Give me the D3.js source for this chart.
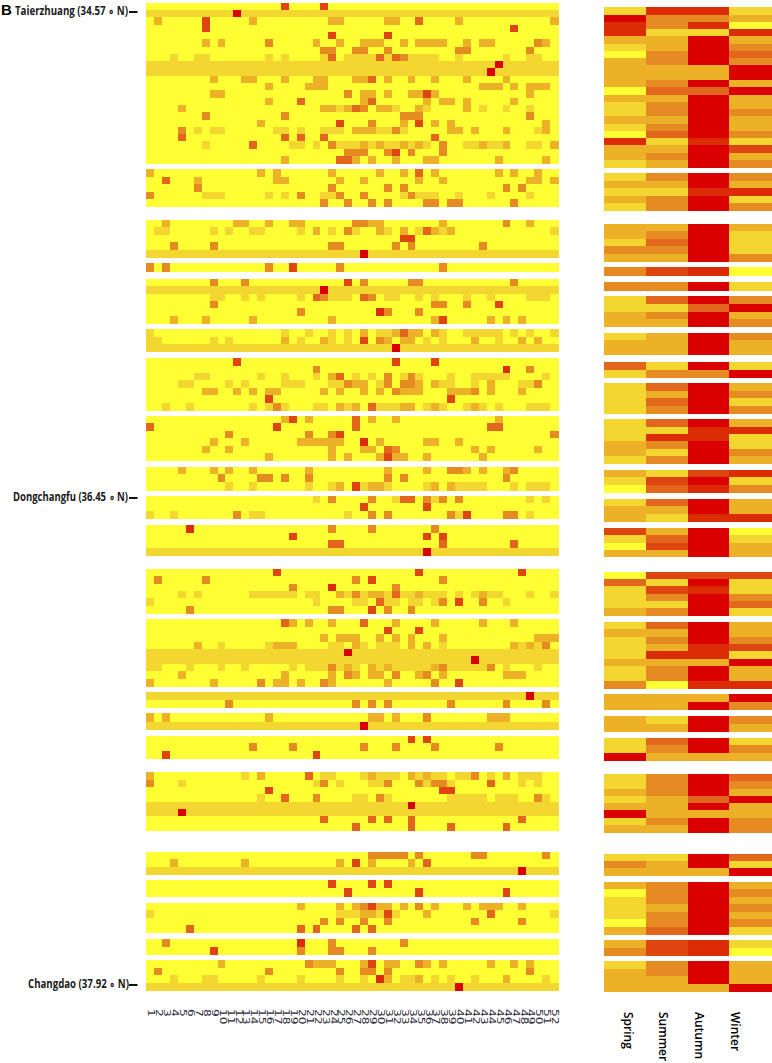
<!DOCTYPE html>
<html>
<head>
<meta charset="utf-8">
<script src="https://cdn.jsdelivr.net/npm/d3@7"></script>
<style>
  html, body { margin: 0; padding: 0; background: #fff; }
  text { fill: #1a1a1a; }
</style>
</head>
<body>
<div id="chart"></div>
<script>
// colour level of a cell: 0 yellow ... 7 red
var levels = [0, 1, 2, 3, 4, 5, 6, 7]
var palette = ['#ffff33', '#f3d62f', '#edb128', '#e68b22', '#e2661c', '#de4510', '#dc2c06', '#db0000']
var weeks = d3.range(1, 53)
var seasons = ['Spring', 'Summer', 'Autumn', 'Winter']
var stations = ['Taierzhuang (34.57 ∘ N)', 'Dongchangfu (36.45 ∘ N)', 'Changdao (37.92 ∘ N)']

// weekly rows: first number is the level of the whole row, then week:level or from-to:level
var leftSizes = [22, 5, 5, 1, 6, 3, 7, 6, 3, 3, 4, 6, 9, 2, 2, 3, 8, 3, 2, 4, 2, 4]
var leftRows = [
  '0 18:5 23:5',
  '1 12:7',
  '0 2:2 8:5 14:2 24-25:2 31-32:2 35:4 40:2 52:2',
  '0 8:5 47:5',
  '0 24:5 31:5',
  '0 8:2 10:2 16:3 22:2 25:2 28-30:2 33:2 35-38:2 41:2 43-44:2 50:3 51:2',
  '0 23-24:3 27-28:3 31:3 40-41:3 49:3',
  '0 4:1 7-8:1 16:1 18:1 23:1 24:4 26-29:1 30:4 31:1 32:4 33:3 34-37:1 40:1 46:1 49-50:1',
  '1 45:7',
  '1 44:7',
  '0 9:2 13-14:2 18:2 22-23:2 27-28:2 29:4 31:2 34:2 37:2 41:2 46:2',
  '0 16:2 21-23:2 43-45:2 47:2 49-51:2',
  '0 9-10:2 26:3 28-29:2 31:2 34-35:2 36:5 37:2 49:2',
  '0 16:2 20:4 28:2 29:4 36:2 38-39:2 41:2 47:2',
  '0 5:2 23-24:2 25:1 26:2 27:4 28:3 30-31:2 32:1 35:2 36:1 41:2 43:1 46:1 49:1',
  '0 8:3 18:3 33-35:3 49:3',
  '0 15:2 25:5 29:3 33:2 35:5 37:2 39:2 51:2',
  '0 5:3 7:1 9-10:1 17-18:1 20:1 23-25:1 27-29:2 30-31:1 32:3 33:1 39-40:2 42:2 46:2 50:1 51:2',
  '0 5:4 18:4 20:4 23:4 37:4',
  '0 8:1 14:4 19-20:1 22:1 24:3 25-27:1 28:2 29:1 30:2 31-32:1 33:2 34:1 35:2 36:1 38:3 41-42:1 43:2 44-45:1 46:2 49-50:1 52:2',
  '0 26-28:3 31:3 32:5 34:3 38:3',
  '0 18:2 25-26:4 27:2 29:2 32:2 36-37:2 45:2 51:2',

  '0 1:2 15:2 17:2 24:2 30:2 33:2 35:4 37:2 45:2 47:2 50:2',
  '0 3:4 7:2 17-18:2 25:2 28:2 35:2 38:2 49-50:2 52:2',
  '0 7:3 24:3 31:3 33:3 46:3 48:3',
  '0 1:3 8-10:1 16:1 18:1 20:3 23-24:1 25:3 28:3 33:1 34:3 35-37:1 40:1 44:1 49:1',
  '0 23:3 26:3 29:3 31:3 36-37:3 39-40:3 47:3',

  '0 3:2 12-13:2 16:2 19-20:2 27-28:3 29-30:2 38:2 46:3 49:2',
  '0 2-3:1 9:1 11:1 14-15:1 20:1 22:2 24:1 26:3 27:1 30:2 31:1 33:2 35:1 36:4 37:2 38:1 39:2 52:1',
  '0 33-34:5',
  '0 4:3 9:3 24-25:3 32:3 34:3 43:3',
  '1 28:7',

  '0 1:3 3:3 16:3 19:5 25:3 38:3',

  '0 9:3 13:3 26:5 28:3 34-35:3 47:3',
  '1 23:7',
  '0 9-10:1 13:1 15:1 20:1 22:4 23:3 24-26:1 28:4 29:3 31-32:1 35:1 37:1 41:1 44:1 49-51:1',
  '0 9:3 37-38:3 41:3 45:5',
  '0 20:3 30:6 31:3 35:3',
  '0 4:2 8:2 14:2 24:2 37:2 38:5 44:2 46:2 48:2',

  '0 1:1 18:1 21:1 24:1 26:1 28:2 30-31:1 32:2 33:4 34-35:2 37:2 38:1 41-45:1 47:1 49:1 52:1',
  '0 1-2:1 9:1 11:1 18:2 20:1 23:2 24:1 26:1 28:5 30:3 31:2 33-34:2 36:1 38:1 42:2 45:1 48:2 50:2',
  '1 32:7',

  '0 12:5 32:5 37:5',
  '0 22:3 46:6 49:3',
  '0 7-8:1 15:1 18:1 22:1 24:2 25:4 27:1 29:1 31:3 33:1 34:3 35:1 39:1 42-46:1 51:1',
  '0 5-6:1 11:1 13:1 18-20:1 24-25:1 26:3 27-28:2 30:1 31:3 33-34:3 35:2 37:2 38-39:1 42:1 44:2 48-49:1 50:3',
  '0 8-9:2 12:2 14:2 16-17:2 23:2 25:2 28:2 30:2 32:3 33-35:2 39-41:2 42:3 44:2 48:2',
  '0 16:5 39:5',
  '0 3:1 6:1 14:1 16:1 17:3 18:1 22-23:1 25:2 26:1 27:2 29:4 30-32:1 33-34:2 36:1 37:2 38:1 41:1 42:2 43:1 45:1 49-51:1',

  '0 18:2 19:5 21:2 27:4 29:2 32:2 45:2',
  '0 1:4 17:5 27:4 44-45:4',
  '0 11:3 21:3 24:3 25:5 52:3',
  '0 9:2 13:2 20-25:2 28:6 30:2 36-37:2 40:2',
  '0 8:2 11:2 24:2 28-29:2 31:4 32:3 42:2 44:2 50:2',
  '0 16:2 24:2 26:2 30:2 31:5 32-33:2 36:2 43:2',

  '0 5:2 9:2 11:2 14:2 21:2 31:2 36:2 39-40:3 41:2 43:2 46:2 47:3',
  '0 10:3 15-16:3 18:3 21:3 31:3 33:3 46:3',
  '0 11:1 14:1 21:1 24:1 25:2 27:5 28:1 29-30:2 31:1 36:1 37:2 39:2 40-43:1 47:1 49-51:1',

  '0 22:1 24:3 29:3 32:1 33-34:4 36:3 37:1 38:3 40:3 49:1 51:1',
  '0 28:5 36:5',
  '0 1:1 4:1 12:3 14-15:1 26:1 29:3 31:3 39:3 40:1 41:5 46-47:3 49:1',

  '0 6:6 24:3 29:3 37:3',
  '0 19:5 36:5 38:5',
  '0 24-25:4 38:4 47:4',
  '1 36:7',

  '0 17:5 35:5 48:5',
  '0 2:3 8:3 27:3 29:5 38:3',
  '0 19:3 24:6 32:3',
  '0 5:1 7:1 14-19:1 21-22:1 25:2 26:1 27:3 28:1 29-30:2 31:1 32:4 33-34:1 35:2 36-38:1 40:1 42:1 43:2 44-45:1 49:1 52:1',
  '0 1:1 22:1 27-28:1 30:4 31-32:1 34-35:1 37:1 38:3 40:5 43:3 46:1',
  '0 6:3 24-25:3 29:5 31:3 34:3',

  '0 18:4 19:2 21:2 24:2 28:4 32:2 37:2 43:2 47:2',
  '0 31:5 35:5',
  '0 23:2 25-27:2 30:2 32:2 34:2 38:2 50-52:2',
  '0 7:2 10:1 16:1 17-19:2 24-25:1 27:2 28:1 30-32:1 34:2 36:2 38:1 47:2 48:1 49:2 50:1 51:3',
  '1 26:7',
  '1 42:7',
  '0 1-2:1 6:1 10:1 13:1 19:1 21-23:1 24:3 25:1 26:2 27:1 29:2 30:1 31:2 32-36:1 37:2 38:3 39-43:1 44:3 46:1 50:1',
  '0 5:2 18:2 24:2 26:3 27:2 29-30:2 32:3 35:2 36:3 38:2 46-48:2',
  '0 1:2 9:2 15:3 17-18:2 20:2 23:3 24:2 31:2 37:3 40:5',

  '1 49:7',
  '0 11:3 27:3 29:3 31:3 39:3 46:3 51:3',

  '0 1:2 3:2 16:2 29-30:2 32:2 36:3 44-46:2',
  '1 28:7',

  '0 34:5 36:5',
  '0 14:3 19:3 28:3 32:3 37:3 45:3',
  '0 3:5 22:5',

  '0 1:2 13:1 15:2 21:4 23-24:1 28:1 29:2 30-32:1 34:2 35:1 36:2 37-38:1 40-41:1 42:3 44:1 46:2 48-50:1',
  '0 1:3 5:1 22:1 23:3 25:1 29-30:1 31:3 35:3 36:1 37-38:3 39:1 44:4 48:1 50:1',
  '0 16:5 38-39:5',
  '0 15:1 18:4 22:3 27-28:1 30:3 31:1 39-43:1 45-47:1 50:3 51:1',
  '1 34:7',
  '1 5:7',
  '0 23:4 29:4 31:4 34:4 48:4',
  '0 27:4 34:4 39:4 46:4',

  '0 29-33:3 35:3 42-43:3 51:3',
  '0 4:2 13:2 25:2 27:5 29:2 34:2 36:4',
  '1 48:7',

  '0 24:5 29:5 31:5',
  '0 26:5 35:5 46:5',

  '0 20:2 25:2 27:2 28:3 29:5 30-31:2 33:2 35:3 37:2 41:2 43-45:2 48:2',
  '0 1:1 25-27:1 28-29:2 30:1 31:5 32:1 36:2 44:4 52:1',
  '0 23:3 25:3 28:3 31:3 42:3 48:3',
  '0 6:4 20:4 22:4 27:4 29:4',

  '0 3:3 20:6 24:3 33:3',
  '0 9:5 20:3 24-25:3 29:3',

  '0 10:2 21:3 22-24:2 28:2 29:5 31-32:2 35:3 36:2 38:2 44:2 47:2 49:2',
  '0 2:3 16:3 25:3 28-29:3 31:3 49:3',
  '0 4:1 8-9:1 15:1 20:1 25:1 28:1 30:6 31:2 33-34:1 35:2 37:1 39:1 42:1 46:2 51:1',
  '1 40:7'
]

// seasonal rows, one level per row for each season
var rightSizes = [22, 5, 5, 1, 1, 4, 3, 2, 4, 6, 3, 3, 4, 6, 9, 2, 2, 3, 8, 3, 7, 2, 4]
var spring = [
  1,7,6,6,2,1,0,2,2,2,2,0,2,1,1,2,1,0,6,2,2,1,
  1,2,1,2,1, 2,2,1,3,2, 3, 3, 1,1,2,2, 1,2,2, 4,1, 1,1,1,1, 1,1,1,2,2,1, 2,1,0, 1,2,2, 5,1,0,2,
  0,4,1,1,1,2, 1,2,1,1,1,2,1,1,3, 2,2, 2,2, 1,1,7, 1,1,2,1,2,7,1,2, 1,3,2, 2,0,1,1,1,0,2, 2,3, 1,2,2,2
]
var summer = [
  6,3,3,1,2,2,3,3,2,2,3,4,2,3,3,2,3,4,1,2,3,2,
  3,2,1,3,3, 2,3,4,3,2, 5, 3, 4,1,3,2, 2,2,2, 1,3, 4,2,4,3, 4,1,6,3,1,3, 1,5,4, 4,2,1, 2,4,5,2,
  5,1,5,3,1,3, 4,2,3,2,6,2,3,3,0, 2,2, 1,2, 4,3,2, 3,3,3,2,2,2,3,2, 1,2,2, 3,3,3,2,3,3,4, 5,5, 3,3,2,2
]
var autumn = [
  6,3,6,1,7,7,7,7,2,2,7,4,7,7,7,7,7,7,6,7,7,7,
  7,7,6,7,7, 7,7,7,7,7, 6, 7, 7,4,7,7, 7,7,7, 7,3, 7,7,7,7, 7,6,6,7,7,7, 5,7,6, 7,7,6, 7,7,7,7,
  5,7,6,7,7,7, 7,7,7,6,6,2,7,7,6, 2,7, 7,7, 7,7,2, 7,7,7,4,7,2,7,7, 7,7,2, 7,7,7,7,7,7,7, 6,6, 7,7,7,2
]
var winter = [
  1,2,0,6,2,3,4,3,7,7,2,7,2,2,3,2,2,3,1,5,2,3,
  3,2,6,1,3, 2,1,1,1,3, 0, 1, 3,7,2,3, 3,2,2, 1,7, 2,3,1,3, 2,6,1,1,3,2, 6,1,3, 2,2,6, 0,1,2,2,
  5,1,1,3,4,1, 2,2,3,5,1,7,2,2,6, 7,3, 3,2, 1,3,2, 4,3,2,7,2,2,3,3, 4,1,7, 2,3,2,3,2,3,1, 1,0, 2,2,2,7
]

// layout, top and bottom of each block of rows
var leftBlocks = [[2.7,163.3],[169,206.7],[220,257.3],[263.3,271.7],[278.7,323.3],[329.3,351.3],[358.3,410],[416,460.3],
  [466.7,490],[496,518.3],[525,555],[568.7,613.3],[619.3,686],[692,707.7],[713.3,729.7],[735.7,758],[772.3,830.7],
  [852,874.3],[880,896.3],[902.7,932.7],[939,954],[960,990.3]]
var rightBlocks = [[7.3,167.3],[173.3,210.7],[224,261],[267.3,275.3],[282.3,290.3],[296.3,326.7],[333,354.7],[362,377.3],
  [383,413],[419.3,463.3],[470,492.3],[499,521],[528.3,556.7],[571.7,615.7],[622,688],[694.3,709.7],[715.7,731.7],
  [737.7,760],[774,832.3],[853.7,875.7],[881.7,934],[940,955],[961.3,991.3]]

var svg = d3.select('#chart').append('svg').attr('width', 772).attr('height', 1063)
  .style('display', 'block').attr('font-family', '"Liberation Sans Narrow", "Open Sans", sans-serif')

var color = d3.scaleOrdinal().domain(levels).range(palette)
var x = d3.scaleBand().domain(weeks).range([146.3, 558])
var xRight = d3.scaleBand().domain(seasons).range([604, 771])

// one y scale per block
function rowScales(sizes, blocks) {
  var out = []
  sizes.forEach(function(n, i) {
    var y = d3.scaleBand().domain(d3.range(n)).range(blocks[i])
    d3.range(n).forEach(function(r) { out.push({y: y(r), h: y.bandwidth()}) })
  })
  return out
}

function parseRow(s) {
  var parts = s.split(' ')
  var cells = weeks.map(function() { return +parts[0] })
  parts.slice(1).forEach(function(p) {
    var a = p.split(':'), r = a[0].split('-')
    for (var w = +r[0]; w <= +(r[1] || r[0]); w++) cells[w - 1] = +a[1]
  })
  return cells
}

var leftY = rowScales(leftSizes, leftBlocks)
var rightY = rowScales(rightSizes, rightBlocks)

var leftCells = []
leftRows.forEach(function(s, r) {
  parseRow(s).forEach(function(v, i) { leftCells.push({week: weeks[i], row: r, v: v}) })
})
var rightCells = []
;[spring, summer, autumn, winter].forEach(function(vals, c) {
  vals.forEach(function(v, r) { rightCells.push({season: seasons[c], row: r, v: v}) })
})

svg.append('g').attr('shape-rendering', 'crispEdges').selectAll('rect').data(leftCells).join('rect')
  .attr('x', function(d) { return x(d.week) })
  .attr('y', function(d) { return leftY[d.row].y })
  .attr('width', x.bandwidth() + 0.5)
  .attr('height', function(d) { return leftY[d.row].h + 0.5 })
  .attr('fill', function(d) { return color(d.v) })

svg.append('g').attr('shape-rendering', 'crispEdges').selectAll('rect').data(rightCells).join('rect')
  .attr('x', function(d) { return xRight(d.season) })
  .attr('y', function(d) { return rightY[d.row].y })
  .attr('width', xRight.bandwidth() + 0.5)
  .attr('height', function(d) { return rightY[d.row].h + 0.5 })
  .attr('fill', function(d) { return color(d.v) })

// week axis, digits are stretched along the text in the original
var weekAxis = svg.append('g').attr('transform', 'translate(1,1009)')
  .call(d3.axisBottom(x).tickSize(0).tickPadding(0))
weekAxis.select('.domain').remove()
weekAxis.selectAll('text')
  .attr('transform', 'rotate(90)').attr('text-anchor', 'start').attr('y', 0).attr('x', 0).attr('dy', '0.35em')
  .attr('font-family', '"DejaVu Sans", sans-serif').attr('font-size', 8).style('fill', '#2a2a3a')
  .attr('textLength', function(d) { return String(d).length * 7.8 }).attr('lengthAdjust', 'spacingAndGlyphs')

// season labels
var xLabels = d3.scalePoint().domain(seasons).range([628, 735])
svg.append('g').selectAll('text').data(seasons).join('text')
  .attr('transform', function(d) { return 'translate(' + xLabels(d) + ',1012) rotate(90)' })
  .attr('dy', '0.35em').attr('font-family', '"Open Sans", sans-serif').attr('font-size', 12).attr('font-weight', 600)
  .style('fill', '#000').text(function(d) { return d })

// station labels and their marks
var stationY = [11, 497, 984], stationX = [15, 13, 28], stationW = [113, 115, 101]
var labels = svg.append('g').selectAll('g').data(stations).join('g')
labels.append('text')
  .attr('x', function(d, i) { return stationX[i] }).attr('y', function(d, i) { return stationY[i] }).attr('dy', '0.35em')
  .attr('font-size', 12.5).attr('font-weight', 700)
  .attr('textLength', function(d, i) { return stationW[i] }).attr('lengthAdjust', 'spacingAndGlyphs')
  .text(function(d) { return d })
labels.append('rect')
  .attr('x', 129).attr('width', 8.5).attr('height', 2)
  .attr('y', function(d, i) { return stationY[i] }).attr('fill', '#111')

svg.append('text').attr('x', 1).attr('y', 14.5).attr('font-family', '"Liberation Sans", sans-serif')
  .attr('font-size', 15).attr('font-weight', 700).style('fill', '#000').text('B')
</script>
</body>
</html>
